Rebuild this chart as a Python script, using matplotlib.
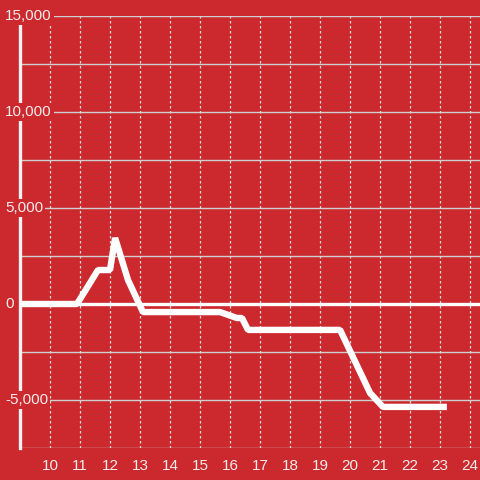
import matplotlib
matplotlib.use("Agg")
import matplotlib.pyplot as plt
import matplotlib.transforms as mtransforms

# values
x_vals = [9, 10.9, 11.6, 12.0, 12.17, 12.6, 13.1, 15.67, 16.23, 16.4, 16.6, 19.67, 20.67, 21.1, 23.23]
y_vals = [0, 0, 1770, 1770, 3440, 1250, -420, -420, -730, -730, -1350, -1350, -4640, -5360, -5360]
x_ticks = list(range(10, 25))
y_labels = [15000, 10000, 5000, 0, -5000]

bg = "#cc292e"
txt = "#f3ecec"
plt.rcParams['font.family'] = ['Liberation Sans', 'DejaVu Sans']

fig = plt.figure(figsize=(4.8, 4.8), dpi=100, facecolor=bg)
ax = fig.add_axes([20/480, 32/480, 460/480, 432/480], facecolor=bg)
ax.set_xlim(9, 9 + 460/30)
ax.set_ylim(-7500, 15000)

# grid
for v in range(-7500, 15001, 2500):
    ax.axhline(v, color="#cfcfcf", lw=1, zorder=1)
for v in x_ticks:
    ax.axvline(v, color="#dddddd", lw=0.9, ls=(0, (2, 2)), zorder=1)
ax.axhline(0, color="white", lw=2.4, zorder=2)

ax.plot(x_vals, y_vals, color="white", lw=4.6, solid_joinstyle="bevel",
        solid_capstyle="butt", zorder=3)

for s in ["top", "right", "bottom"]:
    ax.spines[s].set_visible(False)
ax.spines["left"].set_color("#f2f2f2")
ax.spines["left"].set_linewidth(2.4)
ax.spines["left"].set_zorder(2.5)

ax.set_yticks([])
ax.set_xticks(x_ticks)
ax.set_xticklabels([str(t) for t in x_ticks], color=txt, fontsize=11)
ax.tick_params(axis="x", length=0, pad=8)

trans = mtransforms.blended_transform_factory(fig.transFigure, ax.transData)
for v in y_labels:
    ax.text(5/480, v, f"{v:,}", transform=trans, ha="left", va="center",
            color=txt, fontsize=11, zorder=5,
            bbox=dict(facecolor=bg, edgecolor="none", pad=1.5))

fig.savefig("out.png", dpi=100, facecolor=bg)
